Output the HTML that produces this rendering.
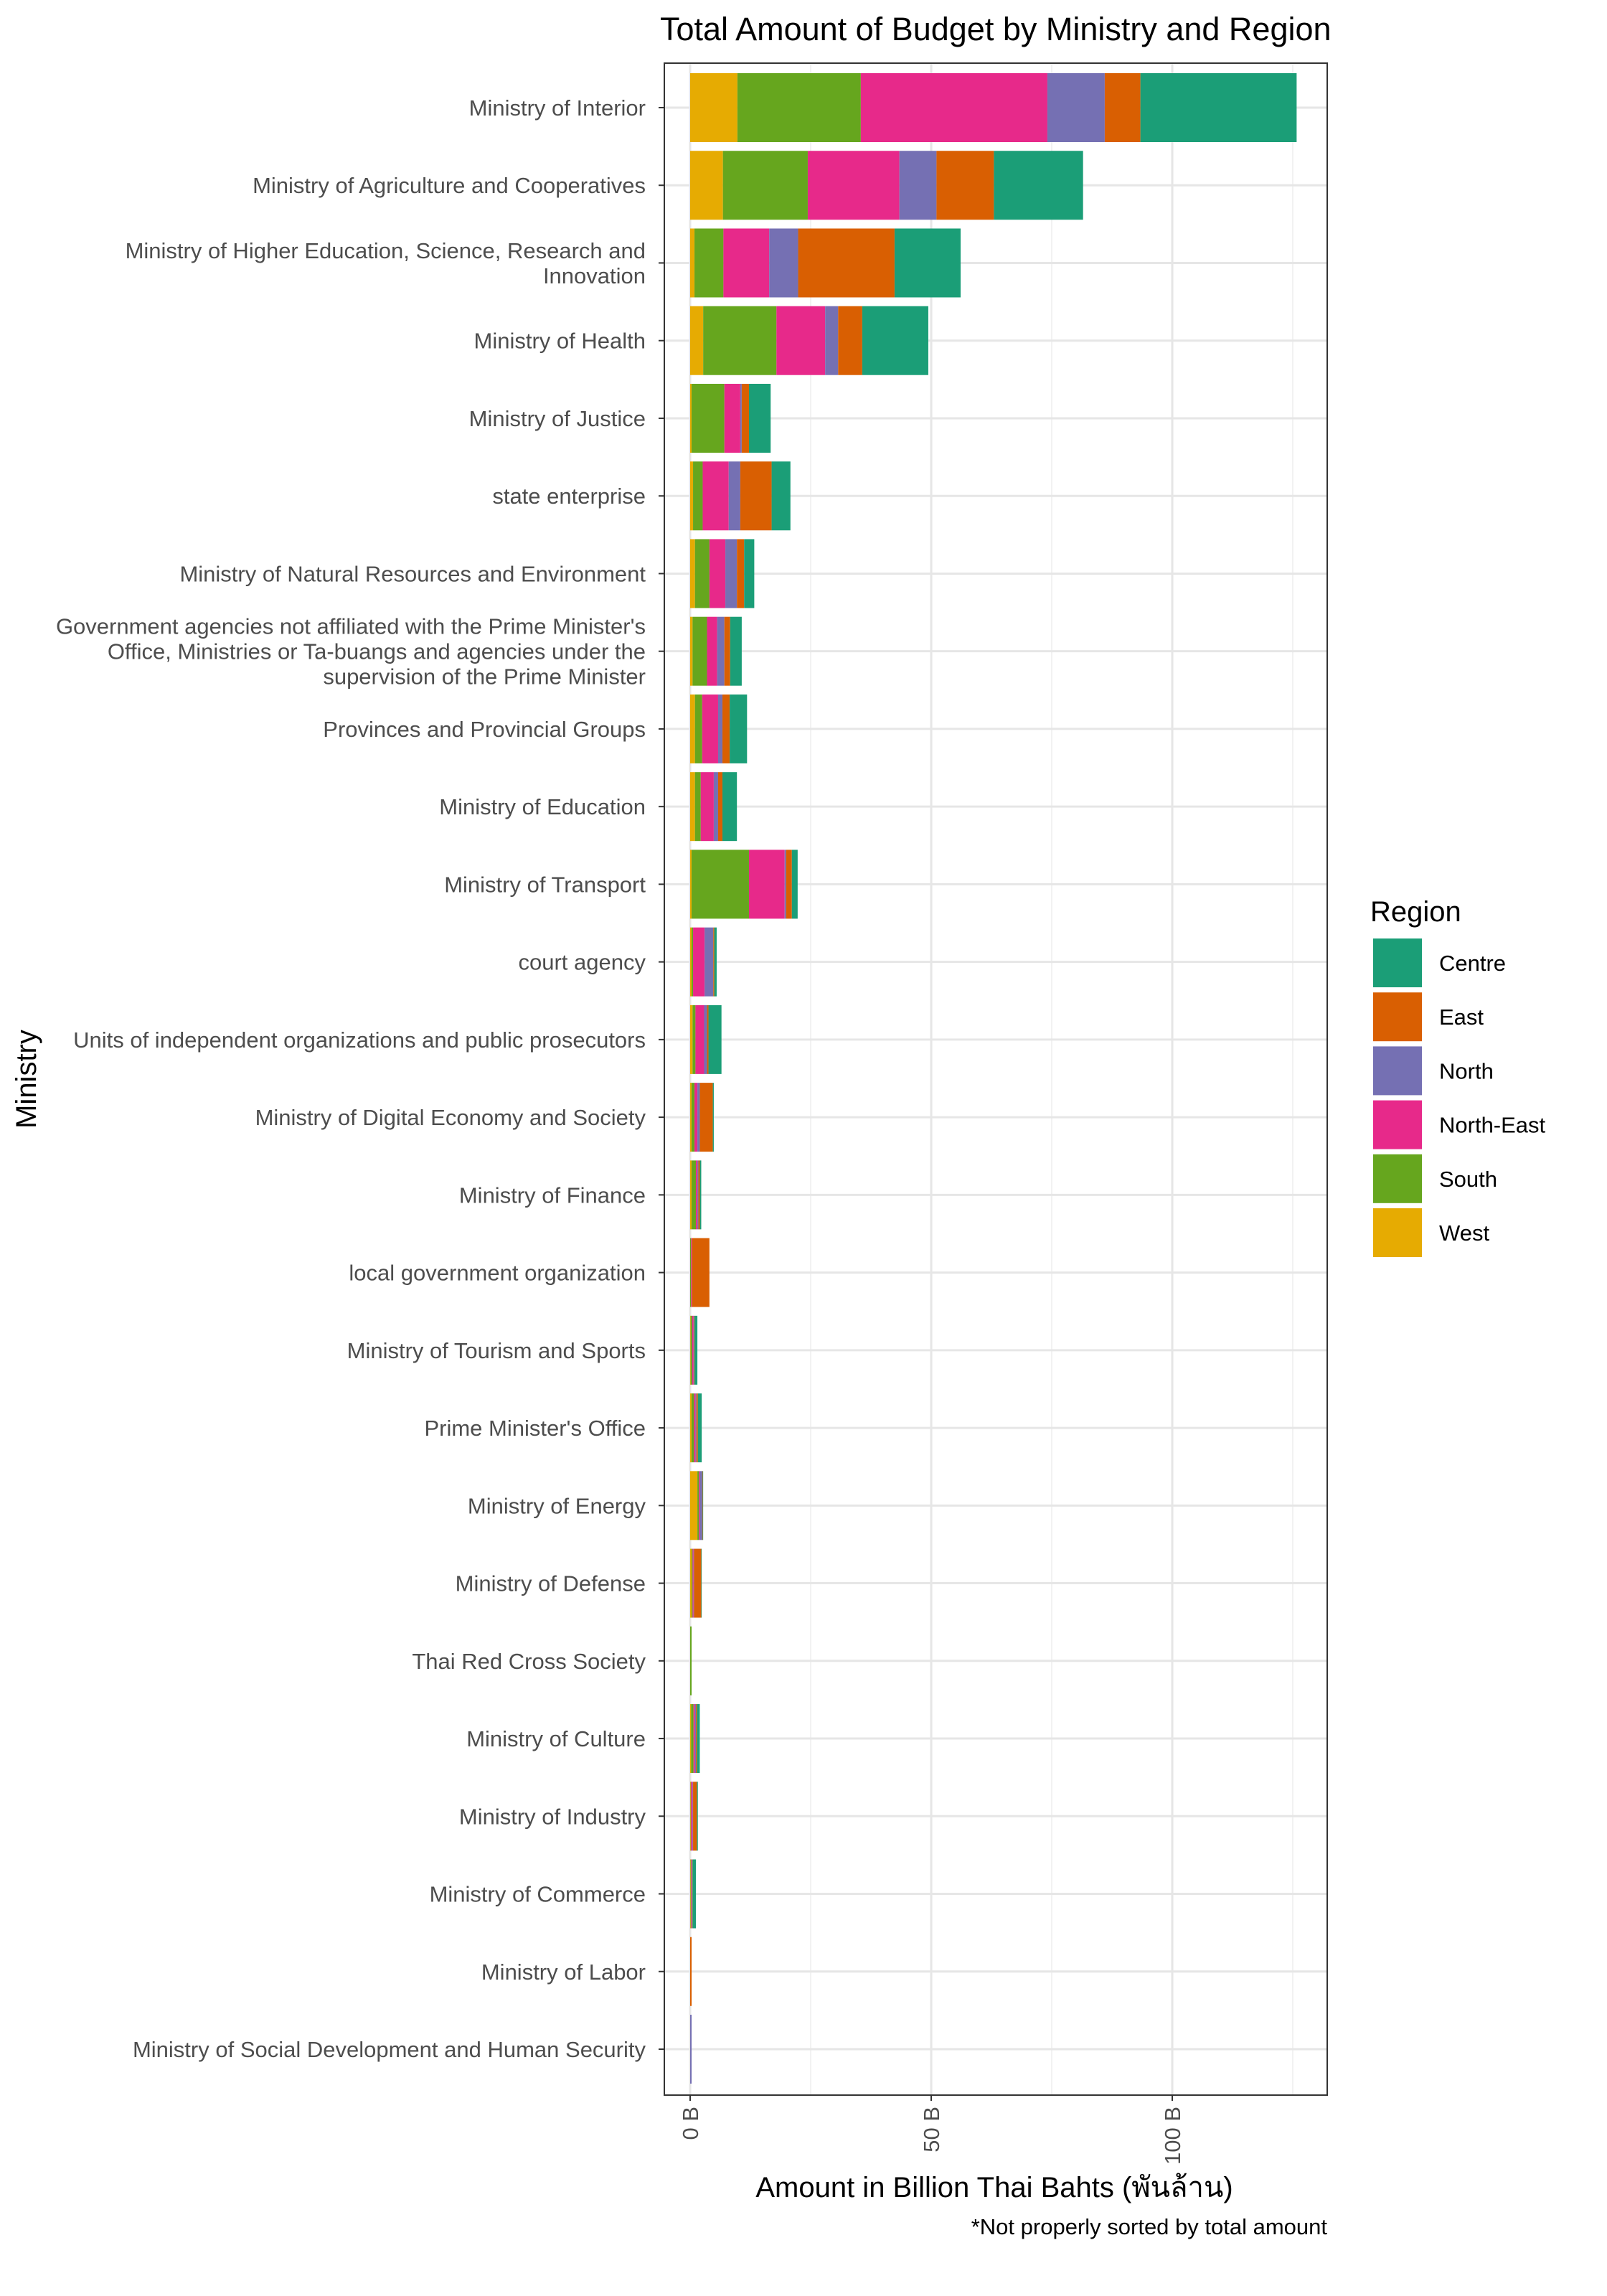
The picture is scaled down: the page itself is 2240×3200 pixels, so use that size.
<!DOCTYPE html>
<html><head><meta charset="utf-8"><style>
html,body{margin:0;padding:0;background:#fff;}
svg{display:block;font-family:"Liberation Sans","Noto Sans CJK SC",sans-serif;}
</style></head><body>
<svg id="chart" width="2240" height="3200" viewBox="0 0 1120 1600">
<rect x="0" y="0" width="1120" height="1600" fill="#fff"/>
<text x="460" y="28" font-size="22.5" fill="#000">Total Amount of Budget by Ministry and Region</text>
<g id="grid"></g>
<g id="bars"></g>
<rect x="463" y="44" width="462" height="1416" fill="none" stroke="#333" stroke-width="1"/>
<g id="ylabels"></g>
<g id="xlabels"></g>
<text x="693" y="1531" font-size="20" text-anchor="middle" fill="#000">Amount in Billion Thai Bahts (พันล้าน)</text>
<text transform="translate(25,752) rotate(-90)" font-size="20" text-anchor="middle" fill="#000">Ministry</text>
<text x="925" y="1557" font-size="15.5" text-anchor="end" fill="#000">*Not properly sorted by total amount</text>
<g id="legend">
<text x="955" y="642" font-size="20" fill="#000">Region</text>
</g>
</svg>
<script>
const ministries = [
"Ministry of Interior","Ministry of Agriculture and Cooperatives",
"Ministry of Higher Education, Science, Research and|Innovation",
"Ministry of Health","Ministry of Justice","state enterprise",
"Ministry of Natural Resources and Environment",
"Government agencies not affiliated with the Prime Minister's|Office, Ministries or Ta-buangs and agencies under the|supervision of the Prime Minister",
"Provinces and Provincial Groups","Ministry of Education","Ministry of Transport",
"court agency","Units of independent organizations and public prosecutors",
"Ministry of Digital Economy and Society","Ministry of Finance",
"local government organization","Ministry of Tourism and Sports",
"Prime Minister's Office","Ministry of Energy","Ministry of Defense",
"Thai Red Cross Society","Ministry of Culture","Ministry of Industry",
"Ministry of Commerce","Ministry of Labor","Ministry of Social Development and Human Security"];
const regions = ["West","South","North-East","North","East","Centre"];
const legendOrder = ["Centre","East","North","North-East","South","West"];
const colors = {"Centre":"#1B9E77","East":"#D95F02","North":"#7570B3","North-East":"#E7298A","South":"#66A61E","West":"#E6AB02"};
const westVals =  [9.8,6.8,0.9,2.7,0.3,0.6,1.0,0.5,1.0,1.0,0.3,0.3,0.5,0.3,0.3,0,0.1,0.3,1.5,0.3,0,0.2,0.1,0.1,0,0];
const southVals = [25.6,17.6,6.0,15.2,6.8,2.0,3.0,3.0,1.5,1.2,11.9,0.3,0.6,0.6,0.9,0.2,0.3,0.5,0.3,0.2,0.3,0.5,0.1,0.1,0,0];
const neVals =    [38.7,19.0,9.5,10.1,3.3,5.4,3.3,2.1,3.3,2.7,7.4,2.4,1.8,0.6,0.3,0.2,0.3,0.3,0.2,0.2,0,0.3,0.3,0.1,0,0];
const northVals = [11.9,7.7,6.0,2.7,0.3,2.4,2.4,1.5,0.9,0.9,0.3,1.8,0.6,0.5,0.2,0,0.1,0.2,0.5,0.1,0,0.2,0.1,0.1,0,0.3];
const eastVals =  [7.4,11.9,20.0,5.0,1.5,6.5,1.5,1.2,1.5,0.9,1.2,0.2,0.3,2.7,0.3,3.6,0.1,0.3,0.1,1.5,0,0.2,0.8,0.1,0.3,0];
const centreVals =[32.4,18.5,13.7,13.7,4.5,3.9,2.1,2.4,3.6,3.0,1.2,0.5,2.7,0.2,0.3,0,0.6,0.8,0.1,0.1,0,0.6,0.2,0.7,0,0];
const xTicks = [0,50,100];
const xTickLabels = ["0 B","50 B","100 B"];
const xMinor = [25,75,125];

const NS="http://www.w3.org/2000/svg";
const x = v => 481 + v*3.36;
const y = i => 75 + i*54.12;
function mk(tag, attrs, parent){const e=document.createElementNS(NS,tag);for(const k in attrs)e.setAttribute(k,attrs[k]);parent.appendChild(e);return e;}
const grid=document.getElementById('grid'), bars=document.getElementById('bars'),
 yl=document.getElementById('ylabels'), xl=document.getElementById('xlabels'), lg=document.getElementById('legend');
xMinor.forEach(v=>{const l=mk('line',{x1:x(v),x2:x(v),y1:44,y2:1460,stroke:'#f2f2f2','stroke-width':1},grid);

});
xTicks.forEach((v,i)=>{const l=mk('line',{x1:x(v),x2:x(v),y1:44,y2:1460,stroke:'#e6e6e6','stroke-width':1.5},grid);


const tk=mk('line',{x1:x(v),x2:x(v),y1:1460,y2:1464,stroke:'#333'},xl);


const t=mk('text',{transform:`translate(${x(v)+5.5},1468) rotate(-90)`,'font-size':15.5,'text-anchor':'end',fill:'#4d4d4d'},xl);
t.textContent=xTickLabels[i];

});
const series=[westVals,southVals,neVals,northVals,eastVals,centreVals];
ministries.forEach((m,i)=>{
 const gl=mk('line',{x1:463,x2:925,y1:y(i),y2:y(i),stroke:'#e6e6e6','stroke-width':1.5},grid);
 
 
 let acc=0;
 series.forEach((s,r)=>{const v=s[i]; if(v<=0)return;
  const rc=mk('rect',{x:x(acc),y:y(i)-24,width:Math.max(x(acc+v)-x(acc),0.3),height:48,fill:colors[regions[r]]},bars);
  
  
  acc+=v;});
 const lines=m.split('|'); const n=lines.length;
 const t=mk('text',{'font-size':15.5,'text-anchor':'end',fill:'#4d4d4d'},yl);
 
 
 lines.forEach((ln,k)=>{const ts=mk('tspan',{x:450,y:y(i)+5.5+(k-(n-1)/2)*17.5},t);ts.textContent=ln;});
 const tk=mk('line',{x1:459,x2:463,y1:y(i),y2:y(i),stroke:'#333'},yl);
 
 
});
legendOrder.forEach((r,k)=>{const yy=654+k*37.6;
 const rc=mk('rect',{x:957,y:yy,width:34,height:34,fill:colors[r]},lg);
 
 
 const t=mk('text',{x:1003,y:yy+22.5,'font-size':15.5,fill:'#000'},lg);t.textContent=r;
 
 });
</script>
</body></html>
